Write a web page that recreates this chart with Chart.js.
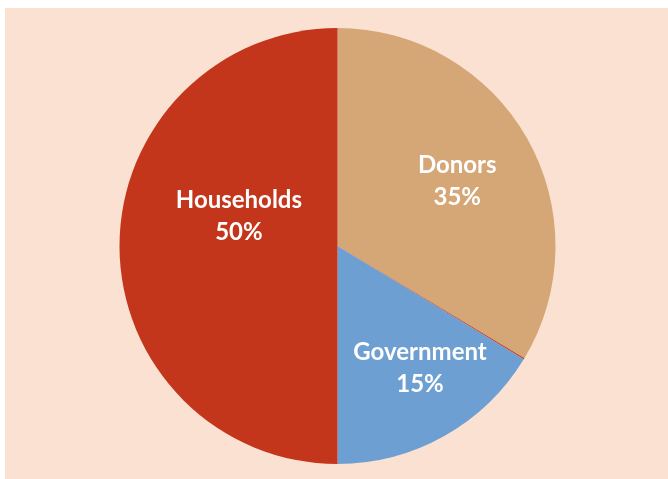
<!DOCTYPE html>
<html>
<head>
<meta charset="utf-8">
<script src="https://cdn.jsdelivr.net/npm/chart.js@4"></script>
<style>
  html, body { margin: 0; padding: 0; background: #ffffff; }
  #wrap { position: relative; width: 668px; height: 479px; }
  #bg { position: absolute; left: 5px; top: 8px; right: 0; bottom: 0; background: #FAE1D1; }
  canvas { position: absolute; left: 0; top: 0; }
</style>
</head>
<body>
<div id="wrap"><div id="bg"></div><canvas id="c" width="668" height="479"></canvas></div>
<script>
const categories = ['Donors', '', 'Government', 'Households'];
const shares = [33.6, 0.1, 16.3, 50];
const pctLabels = ['35%', '', '15%', '50%'];
const colors = ['#D5A676', '#C3361B', '#6D9FD2', '#C3361B'];
// label placement: [angle in degrees from +x axis clockwise, distance as fraction of radius]
const labelPlacement = [[-28.5, 0.625], null, [55.9, 0.675], [-163, 0.473]];

const labelPlugin = {
  id: 'sliceLabels',
  afterDatasetsDraw(chart) {
    const ctx = chart.ctx;
    const meta = chart.getDatasetMeta(0);
    ctx.save();
    ctx.fillStyle = '#ffffff';
    ctx.font = 'bold 24px Lato';
    ctx.textAlign = 'center';
    ctx.textBaseline = 'middle';
    meta.data.forEach((arc, i) => {
      const p = labelPlacement[i];
      if (!p || !categories[i]) return;
      const a = p[0] * Math.PI / 180;
      const r = arc.outerRadius * p[1];
      const x = arc.x + Math.cos(a) * r;
      const y = arc.y + Math.sin(a) * r;
      ctx.fillText(categories[i], x, y - 16);
      ctx.fillText(pctLabels[i], x, y + 16);
    });
    ctx.restore();
  }
};

new Chart(document.getElementById('c'), {
  type: 'pie',
  data: {
    labels: categories,
    datasets: [{ data: shares, backgroundColor: colors, borderWidth: 0 }]
  },
  options: {
    responsive: false,
    animation: false,
    layout: { padding: { left: 7, right: 0, top: 28, bottom: 15 } },
    plugins: { legend: { display: false }, tooltip: { enabled: false } }
  },
  plugins: [labelPlugin]
});
</script>
</body>
</html>
